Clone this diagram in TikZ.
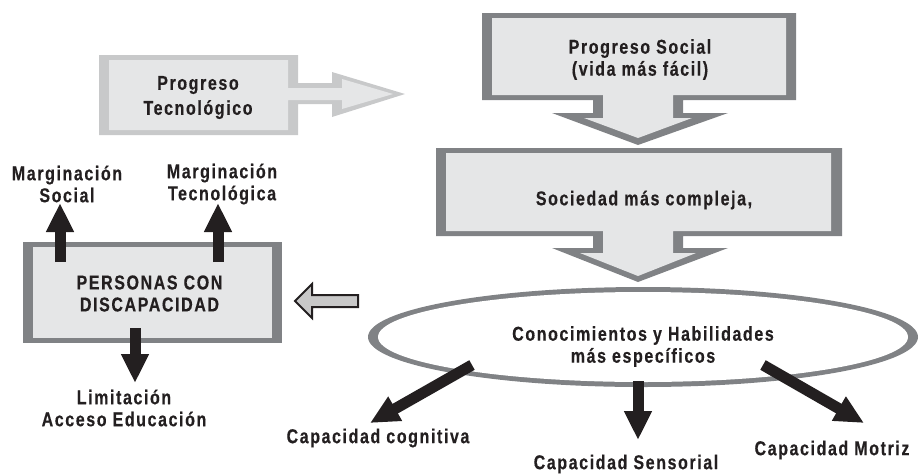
\documentclass[tikz,border=0pt]{standalone}
\usepackage{fontspec}
\setmainfont{Liberation Sans}[FakeStretch=0.8,LetterSpace=8,BoldFeatures={FakeBold=0.4}]
\usetikzlibrary{arrows.meta}
\definecolor{boxfill}{HTML}{E5E6E7}
\definecolor{boxline}{HTML}{808285}
\definecolor{ptline}{HTML}{C8C9CA}
\definecolor{larrow}{HTML}{C8C8C8}
\definecolor{ink}{HTML}{231F20}
\begin{document}
\begin{tikzpicture}[x=1pt,y=-1pt,
  lbl/.style={font=\fontsize{20}{22}\selectfont\bfseries, align=center, inner sep=0pt, text=ink},
  blk/.style={line width=11pt, draw=ink, -{Triangle[width=26pt,length=29pt]}},
]
\useasboundingbox (0,0) rectangle (922,475);
% Progreso Tecnologico callout
\fill[ptline] (99,55) -- (298,55) -- (298,83) -- (332,83) -- (332,72) -- (405,94) -- (332,117) -- (332,104) -- (298,104) -- (298,135) -- (99,135) -- cycle;
\fill[boxfill] (109,60) -- (288,60) -- (288,88) -- (342,88) -- (342,79) -- (393,94) -- (342,109) -- (342,100) -- (288,100) -- (288,130) -- (109,130) -- cycle;
% Progreso Social callout
\fill[boxline] (482,13) -- (796,13) -- (796,100) -- (683,100) -- (683,113) -- (728,113) -- (638,145) -- (552,113) -- (593,113) -- (593,100) -- (482,100) -- cycle;
\fill[boxfill] (492,18) -- (786,18) -- (786,95) -- (673,95) -- (673,118) -- (692,118) -- (638,138) -- (584,118) -- (603,118) -- (603,95) -- (492,95) -- cycle;
% Sociedad callout
\fill[boxline] (436,148) -- (842,148) -- (842,236) -- (683,236) -- (683,248) -- (728,248) -- (638,282) -- (552,248) -- (593,248) -- (593,236) -- (436,236) -- cycle;
\fill[boxfill] (446,153) -- (831,153) -- (831,231) -- (673,231) -- (673,253) -- (696,253) -- (638,276) -- (580,253) -- (603,253) -- (603,231) -- (446,231) -- cycle;
% Personas box
\fill[boxline] (23,242) rectangle (282,343);
\fill[boxfill] (33,247) rectangle (272,338);
% Ellipse
\fill[boxline] (643,337) ellipse [x radius=275, y radius=50];
\fill[white] (643,337) ellipse [x radius=265, y radius=45];
% left hollow arrow
\filldraw[fill=larrow, draw=ink, line width=2pt, line join=miter] (358,295) -- (312,295) -- (312,284) -- (295,301) -- (312,318) -- (312,307) -- (358,307) -- cycle;

% texts
\node[lbl] (pt) at (198,97.5) {Progreso\\[3pt]Tecnológico};
\node[lbl] (ps) at (640,59.5) {Progreso Social\\(vida más fácil)};
\node[lbl] (sc) at (644,200) {Sociedad más compleja,};
\node[lbl] (ck) at (643,346.5) {Conocimientos y Habilidades\\más específicos};
\node[lbl] (pb) at (149.5,293.5) {PERSONAS CON\\DISCAPACIDAD};
\node[lbl] (ms) at (67,184) {Marginación\\Social};
\node[lbl] (mt) at (222,184) {Marginación\\Tecnológica};
\node[lbl] (li) at (124,408) {Limitación\\Acceso Educación};
\node[lbl] (cc) at (378,438) {Capacidad cognitiva};
\node[lbl] (cs) at (626,464) {Capacidad Sensorial};
\node[lbl] (cm) at (832,450) {Capacidad Motriz};

% arrow end points
\coordinate (ms0) at (60,262);   \coordinate (ms1) at (60,203);
\coordinate (mt0) at (218,262);  \coordinate (mt1) at (218,203);
\coordinate (li0) at (135,328);  \coordinate (li1) at (135,383);
\coordinate (cc0) at (472,365);  \coordinate (cc1) at (370,423);
\coordinate (cs0) at (638,381);  \coordinate (cs1) at (638,440);
\coordinate (cm0) at (763,365);  \coordinate (cm1) at (864,423);
\draw[blk] (ms0) -- (ms1);
\draw[blk] (mt0) -- (mt1);
\draw[blk] (li0) -- (li1);
\draw[blk] (cc0) -- (cc1);
\draw[blk] (cs0) -- (cs1);
\draw[blk] (cm0) -- (cm1);
\end{tikzpicture}
\end{document}
